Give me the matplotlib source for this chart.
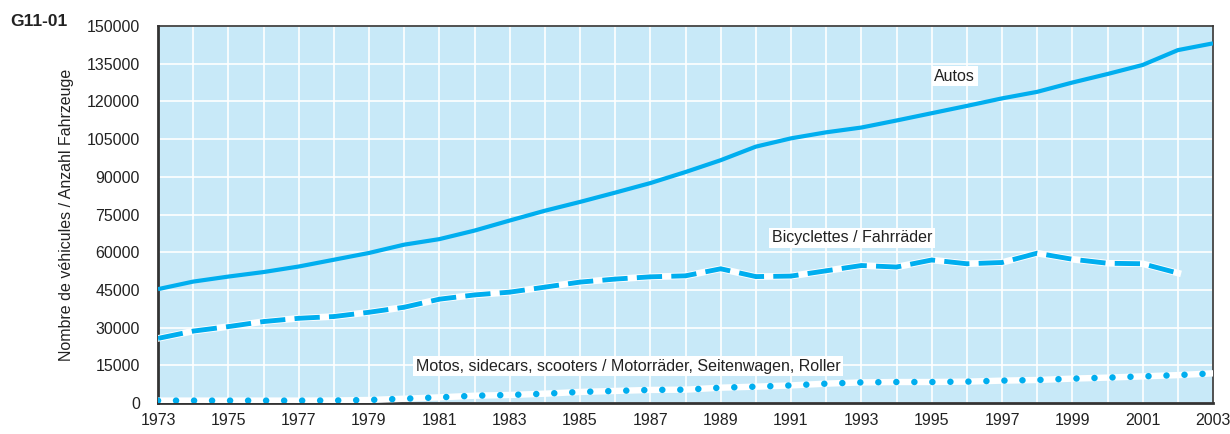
import matplotlib.pyplot as plt

plt.rcParams['font.family'] = ['Liberation Sans', 'DejaVu Sans']

years = list(range(1973, 2004))
autos = [45300, 48300, 50300, 52100, 54300, 57000, 59700, 63000, 65200, 68600,
         72600, 76500, 80000, 83700, 87500, 91900, 96600, 102000, 105300, 107700,
         109600, 112400, 115300, 118200, 121200, 123800, 127500, 130900, 134500,
         140400, 143100]
bikes = [25700, 28600, 30400, 32400, 33700, 34400, 36100, 38100, 41300, 43000,
         44100, 46100, 48100, 49300, 50200, 50600, 53400, 50300, 50500, 52600,
         54700, 54100, 56900, 55400, 55900, 59600, 57200, 55600, 55400, 51700]
motos = [950, 950, 950, 950, 950, 1000, 1200, 1700, 2250, 2900,
         3200, 3700, 4400, 4800, 5200, 5300, 6100, 6500, 7000, 7700,
         8200, 8350, 8350, 8500, 8900, 9150, 9700, 10100, 10600, 11100, 11800]

blue = '#00aeef'
bg = '#c8e9f8'
txt = '#222222'

fig = plt.figure(figsize=(12.3, 4.34), dpi=100)
ax = fig.add_axes([158/1230, 1 - 403/434, (1213 - 158)/1230, (403 - 26)/434])
ax.set_facecolor(bg)

ax.plot(years, autos, color=blue, lw=3, solid_capstyle='butt', zorder=3)
ax.plot(years[:len(bikes)], bikes, color='white', lw=4.8, zorder=3)
ax.plot(years[:len(bikes)], bikes, color=blue, lw=3.5, dashes=(5.2, 1.9),
        dash_capstyle='butt', zorder=4)
ax.plot(years, motos, color='white', lw=4.6, zorder=3)
ax.plot(years, motos, color=blue, lw=4.7, dashes=(0.01, 2.75),
        dash_capstyle='round', zorder=4)

ax.set_xlim(1973, 2003)
ax.set_ylim(0, 150000)
ax.set_xticks(range(1973, 2004, 2))
ax.set_xticks(range(1973, 2004), minor=True)
ax.set_yticks(range(0, 150001, 15000))
ax.grid(True, which='both', color='white', lw=1.2)
ax.set_axisbelow(True)
ax.tick_params(which='both', length=0, labelsize=11.5, colors=txt)
ax.tick_params(axis='x', pad=7)
ax.tick_params(axis='y', pad=13)
for s in ax.spines.values():
    s.set_color('#333333')
    s.set_linewidth(1.2)
ax.spines['left'].set_linewidth(2)
ax.spines['bottom'].set_linewidth(2)

ax.set_ylabel('Nombre de véhicules / Anzahl Fahrzeuge', fontsize=11.5,
              color=txt, labelpad=9)

box = dict(facecolor='white', edgecolor='none', pad=2)
ax.text(1995.66, 130100, 'Autos', fontsize=11.5, ha='center', va='center',
        bbox=box, color=txt, zorder=6)
ax.text(1992.73, 65650, 'Bicyclettes / Fahrräder', fontsize=11.5, ha='center',
        va='center', bbox=box, color=txt, zorder=6)
ax.text(1986.36, 14700, 'Motos, sidecars, scooters / Motorräder, Seitenwagen, Roller',
        fontsize=11.5, ha='center', va='center', bbox=box, color=txt, zorder=6)

fig.text(10/1230, 1 - 22/434, 'G11-01', fontsize=12.5, fontweight='bold',
         ha='left', va='center', color=txt)

fig.savefig('out.png', dpi=100)
